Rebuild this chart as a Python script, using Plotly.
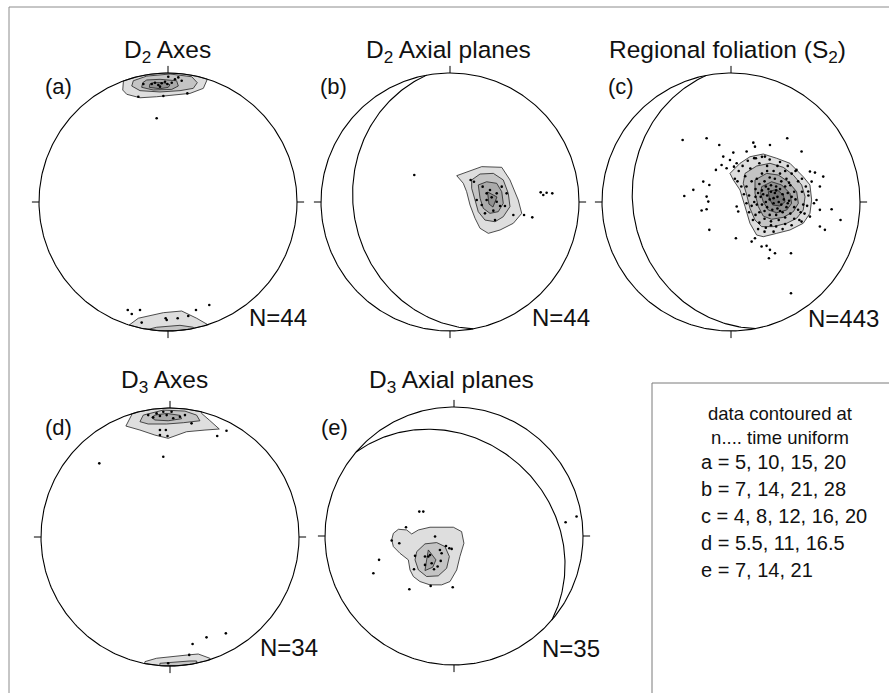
import numpy as np
import plotly.graph_objects as go

# ---------------- DATA (net units: primitive radius = 100, north up) ----------------
# Panel (a) D2 axes - poles
A_X = [-12.6, -10.1, -7.5, -4.9, -2.3, -0.5, 2.9, 5.4, 8.0, -19.1, 10.6, -23.0, -3.6, 15.0, -6.2, 0.2, -8.8,
       -31.2, -28.1, -21.7, -20.4, -1.8, -1.0, 7.5, 15.7, 21.7, 32.0]
A_Y = [91.5, 92.5, 90.7, 92.0, 93.2, 91.5, 92.5, 95.1, 96.6, 91.5, 94.0, 81.6, 82.2, 84.2, 89.4, 97.1, 64.9,
       -83.7, -86.8, -83.7, -93.5, -90.1, -91.5, -90.1, -88.4, -83.7, -79.8]
# contour rings: (level, closes along primitive, vertices)
A_RINGS = [
    (1, True, [(-34.6, 93.2), (-35.1, 86.8), (-32.0, 83.5), (-21.7, 80.8), (-8.8, 81.6), (6.7, 82.9),
               (17.1, 84.2), (27.4, 88.1), (30.5, 95.2)]),
    (2, False, [(-26.9, 94.0), (-28.1, 89.9), (-21.7, 86.3), (-6.2, 85.3), (9.3, 86.3), (19.6, 88.1),
                (22.7, 92.5), (18.4, 97.1), (1.6, 99.2), (-16.5, 97.6)]),
    (3, False, [(-19.6, 92.5), (-20.4, 88.9), (-11.4, 86.8), (2.9, 87.3), (8.0, 89.9), (6.7, 94.0),
                (-6.2, 95.1), (-16.5, 94.6)]),
    (4, False, [(-14.0, 91.5), (-14.5, 88.9), (-6.2, 87.8), (0.2, 88.9), (1.6, 90.9), (-3.6, 92.5),
                (-11.4, 92.5)]),
    (1, True, [(-30.0, -95.3), (-23.0, -90.1), (-3.6, -85.8), (10.6, -84.5), (22.2, -90.1), (31.2, -95.3)]),
    (2, True, [(-15.3, -98.7), (-8.8, -97.1), (9.3, -95.6), (19.6, -97.1)]),
]

# Panel (b) D2 axial planes - poles
B_X = [-27.7, 70.3, 72.3, 74.9, 79.3, 57.4, 63.8, 16.0, 18.6, 25.3, 28.4, 32.3, 36.2, 38.8, 33.6, 42.6,
       24.6, 34.9, 40.1, 49.1, 28.4, 31.0, 36.2, 27.1, 20.7, 43.9]
B_Y = [20.9, 7.5, 5.4, 7.2, 6.7, -10.1, -11.9, 17.1, 15.7, 11.9, 6.7, 3.6, 0.2, -3.1, -6.7, -3.1,
       -2.3, -14.0, 11.9, -10.1, 1.6, 9.3, 6.7, -8.8, 1.6, 6.7]
B_RINGS = [
    (1, False, [(5.2, 20.4), (24.6, 27.4), (40.1, 26.9), (46.5, 17.1), (52.9, 1.6), (55.6, -8.8), (49.1, -16.5),
                (38.8, -21.7), (29.7, -24.3), (23.3, -20.4), (19.4, -12.6), (15.5, -2.3), (12.9, 8.0), (10.3, 14.5)]),
    (2, False, [(16.8, 17.1), (23.3, 21.7), (33.6, 22.2), (41.3, 17.1), (45.2, 6.7), (46.5, -3.6), (41.3, -11.4),
                (34.9, -15.3), (27.1, -14.0), (21.9, -7.5), (19.4, 1.6), (16.8, 10.6)]),
    (3, False, [(21.9, 13.2), (28.4, 15.7), (36.2, 14.5), (40.1, 8.0), (41.3, -1.0), (37.4, -7.5), (31.0, -8.8),
                (25.8, -4.9), (23.3, 2.9)]),
    (4, False, [(29.1, 7.8), (36.4, 3.9), (33.3, -3.9), (30.2, -1.6)]),
]
B_PLANE = (169.6, 26.0)   # strike (right-hand rule), dip

# Panel (c) regional foliation S2 - poles
C_X = [-37.5, -18.9, -9.1, 17.3, 18.6, 30.2, 43.6, 54.7, -6.0, 1.8, 4.4, -11.7, -3.4, -0.8, 61.2, 65.1, 71.5,
       62.5, 68.9, -21.5, -29.2, -36.2, -16.8, -18.9, -17.6, -22.8, -18.9, 4.4, 5.6, 66.3, 78.0, 84.9, 68.9,
       72.8, -16.8, 3.8, 16.0, 18.6, 23.7, 27.6, 30.2, 34.1, 29.4, 46.5, 46.5, 59.9, 64.3, 68.9, 61.2, 54.7,
       12.1, 26.3, 19.3, 50.8, -7.3, 2.3,
       3, 6, 9, 13, 18, 24, 30, 38, 44, 50, 55, 58, 60, 59, 57, 53, 47, 40, 33, 26, 21, 17, 14, 12, 10, 8, 5,
       11, 15, 22, 28, 36, 42, 47, 52, 55, 56, 54, 49, 42, 35, 27, 22, 19, 16, 14, 12,
       20, 24, 28, 33, 38, 43, 46, 49, 50, 49, 46, 42, 37, 31, 26, 22, 20, 19, 19, 22, 26, 30, 34, 39, 42, 44,
       45, 43, 40, 35, 30, 26, 24, 23, 24, 27, 31, 35, 38, 40, 41, 39, 36, 32, 28, 27, 28, 31, 34, 36, 37, 33,
       30, 33, 35, 29, 25, 38, 44, 47, 21, 18, 52, 45, 31, 16]
C_Y = [48.1, 49.4, 44.2, 46.0, 42.9, 44.2, 49.4, 39.1, 35.2, 38.3, 30.0, 24.9, 26.2, 32.6, 23.6, 22.8, 19.7,
       15.8, 12.0, 15.8, 9.4, 4.7, 13.2, 4.2, 0.3, -6.6, -5.6, -3.5, -7.4, 1.6, -5.6, -13.9, -19.0,
       -21.6, -21.6, -28.1, -30.7, -28.1, -34.5, -34.0, -37.1, -39.7, -43.6, -39.7, -70.7, 8.1, -1.0, -6.1, -11.3, -15.2,
       39.1, 35.2, 33.9, 24.9, 28.7, 27.4,
       18, 24, 28, 32, 34, 35, 33, 31, 28, 24, 18, 12, 5, -3, -9, -14, -18, -21, -23, -23, -21, -14, -8, -1, 6, 12, 16,
       20, 26, 30, 28, 28, 24, 22, 16, 8, -2, -8, -13, -17, -19, -20, -16, -10, -3, 5, 12,
       18, 22, 24, 24, 22, 18, 13, 8, 2, -4, -9, -12, -14, -15, -13, -8, -2, 4, 10, 14, 16, 19, 18, 16, 12, 7,
       1, -4, -8, -10, -10, -7, -2, 4, 9, 12, 13, 12, 10, 6, 2, -2, -5, -6, -4, 0, 5, 8, 7, 4, 0, -1,
       2, 3, 9, 10, 6, -7, -1, 4, 7, 0, -6, 15, -18, 16]
C_RINGS = [
    (1, False, [(-0.8, 22.2), (7.0, 30.0), (14.7, 35.1), (25.0, 37.2), (35.4, 33.9), (45.7, 30.0), (56.0, 19.6),
                (61.2, 13.2), (62.5, 1.6), (61.2, -8.8), (56.0, -16.5), (45.7, -21.7), (35.4, -24.3), (25.0, -26.9),
                (19.9, -25.6), (14.7, -16.5), (10.9, -3.6), (7.0, 9.3), (1.8, 17.1)]),
    (2, False, [(10.9, 22.2), (19.9, 27.9), (30.2, 30.0), (40.5, 26.9), (48.3, 20.9), (54.8, 13.2), (57.4, 4.1),
                (56.0, -6.2), (50.9, -12.6), (43.2, -16.5), (32.8, -19.1), (23.8, -19.1), (18.6, -14.0),
                (14.7, -4.9), (12.2, 5.4), (9.5, 14.5)]),
    (3, False, [(18.6, 17.1), (27.7, 22.2), (36.7, 20.9), (44.4, 15.7), (50.9, 8.0), (52.2, -1.0), (48.3, -7.5),
                (40.5, -11.9), (31.5, -13.4), (25.0, -10.9), (21.2, -3.6), (18.6, 6.7)]),
    (4, False, [(23.8, 11.9), (31.5, 15.7), (39.3, 13.2), (45.7, 6.7), (47.0, -1.0), (43.2, -6.2), (35.4, -8.3),
                (28.9, -6.2), (25.0, 0.2), (23.0, 6.7)]),
    (5, False, [(28.9, 8.0), (35.4, 9.8), (40.5, 5.4), (41.9, 0.2), (38.0, -3.1), (32.3, -2.3), (29.7, 2.9)]),
]
C_PLANE = (169.0, 25.0)

# Panel (d) D3 axes - poles
D_X = [-16.9, -13.0, -10.4, -7.8, -5.2, -2.6, 1.2, 2.5, 7.7, 11.6, 16.7, -7.8, -3.2, -7.8, -1.9, 36.6, 43.8,
       -5.2, -54.8, 17.5, 28.3, 43.3, 14.9, -1.4]
D_Y = [94.5, 92.7, 95.8, 93.8, 97.1, 94.5, 97.1, 92.0, 93.2, 94.5, 88.1, 82.9, 82.9, 79.0, 78.3, 78.3, 82.4,
       62.2, 57.1, -82.9, -77.8, -74.7, -91.4, -97.9]
D_RINGS = [
    (1, True, [(-29.8, 94.5), (-34.2, 86.0), (-23.3, 82.9), (-11.7, 79.0), (-1.4, 76.5), (12.8, 81.6),
               (27.1, 82.9), (38.2, 83.7), (30.4, 90.7), (24.5, 95.8)]),
    (2, False, [(-20.7, 94.5), (-23.3, 89.4), (-16.9, 87.6), (-2.6, 87.6), (10.3, 88.6), (23.2, 90.1),
                (20.6, 94.5), (11.6, 97.6), (-5.2, 98.4)]),
    (3, False, [(-14.3, 92.7), (-11.7, 90.7), (-1.4, 90.1), (9.0, 91.7), (7.7, 94.3), (-2.6, 95.8), (-11.7, 94.5)]),
    (1, True, [(-19.4, -96.6), (-10.4, -94.0), (14.1, -91.4), (21.9, -90.7), (30.9, -94.0)]),
    (2, True, [(-7.8, -97.9), (2.5, -96.9), (15.4, -96.1), (20.6, -96.1)]),
]

# Panel (e) D3 axial planes - poles
E_X = [-26.9, -23.8, -37.2, -48.3, -42.4, -58.1, -62.5, -34.6, -18.1, -1.0, -14.7, -6.2, -3.6, -1.8, -10.9,
       -9.6, -10.3, -12.7, -15.5, -19.9, -22.5, -30.2, -31.0, -22.5, -17.3, -18.6, 86.5, 95.0]
E_Y = [18.9, 18.9, 6.8, -3.5, -5.6, -18.5, -28.9, -41.3, -38.7, -39.7, -0.4, -7.7, -9.5, -10.0, -10.8,
       -13.4, -19.3, -23.7, -25.8, -15.9, -15.9, -15.4, -25.8, -22.4, -21.1, -14.7, 10.7, 15.1]
E_RINGS = [
    (1, False, [(-47.0, 2.1), (-43.1, 5.2), (-36.7, 4.7), (-32.8, 1.6), (-27.6, 4.7), (-18.6, 6.8), (-0.5, 6.8),
                (5.9, 3.4), (7.7, -5.6), (4.6, -15.9), (2.1, -26.3), (-3.1, -35.3), (-9.6, -37.9), (-18.6, -37.9),
                (-26.4, -35.3), (-31.5, -31.4), (-34.1, -26.3), (-35.4, -18.5), (-41.9, -13.4), (-47.0, -8.2),
                (-48.3, -3.0)]),
    (2, False, [(-28.9, -12.1), (-22.5, -6.1), (-13.4, -5.1), (-7.0, -8.2), (-3.6, -15.9), (-5.7, -25.0),
                (-12.2, -30.9), (-21.2, -31.4), (-27.6, -26.3), (-30.2, -18.5)]),
    (3, False, [(-19.9, -10.8), (-14.0, -18.5), (-16.5, -24.2), (-22.5, -26.8), (-21.2, -18.5)]),
]
E_PLANE = (310.6, 26.0)

TITLES = ["D<sub>2</sub> Axes", "D<sub>2</sub> Axial planes", "Regional foliation (S<sub>2</sub>)",
          "D<sub>3</sub> Axes", "D<sub>3</sub> Axial planes"]
LETTERS = ["(a)", "(b)", "(c)", "(d)", "(e)"]
COUNTS = ["N=44", "N=44", "N=443", "N=34", "N=35"]
LEGEND_HEAD = ["data contoured at", "n.... time uniform"]
LEGEND_LINES = ["a = 5, 10, 15, 20", "b = 7, 14, 21, 28", "c = 4, 8, 12, 16, 20",
                "d = 5.5, 11, 16.5", "e = 7, 14, 21"]

# ---------------- STYLE / LAYOUT ----------------
W, H = 889, 693
S = 1.29          # px per net unit
RA = 120          # axis half-range in net units
FONT = "Liberation Sans, Arial, Helvetica, sans-serif"
LEVEL_FILL = {1: "#dedede", 2: "#c4c4c4", 3: "#aaaaaa", 4: "#909090", 5: "#777777"}

PANELS = [
    dict(c=(168, 202), pts=(A_X, A_Y), rings=A_RINGS, plane=None,
         title=(167, 51), letter=(58, 87), count=(247, 317)),
    dict(c=(450, 202), pts=(B_X, B_Y), rings=B_RINGS, plane=B_PLANE,
         title=(448, 51), letter=(333, 87), count=(530, 317)),
    dict(c=(731, 202), pts=(C_X, C_Y), rings=C_RINGS, plane=C_PLANE,
         title=(727, 51), letter=(621, 87), count=(806, 318)),
    dict(c=(170, 537), pts=(D_X, D_Y), rings=D_RINGS, plane=None,
         title=(164, 381), letter=(58, 427), count=(258, 647)),
    dict(c=(454, 536), pts=(E_X, E_Y), rings=E_RINGS, plane=E_PLANE,
         title=(451, 382), letter=(334, 427), count=(540, 648)),
]


def ring_xy(verts, on_primitive):
    xs = [v[0] for v in verts]
    ys = [v[1] for v in verts]
    if on_primitive:
        a_end = np.arctan2(ys[-1], xs[-1])
        a_start = np.arctan2(ys[0], xs[0])
        d = (a_start - a_end + np.pi) % (2 * np.pi) - np.pi
        t = a_end + np.linspace(0, d, 40)
        xs += list(100 * np.cos(t))
        ys += list(100 * np.sin(t))
    xs.append(xs[0])
    ys.append(ys[0])
    return xs, ys


def great_circle(strike, dip):
    s, d = np.radians(strike), np.radians(dip)
    dd = s + np.pi / 2
    sv = np.array([np.cos(s), np.sin(s), 0.0])
    dv = np.array([np.cos(dd) * np.cos(d), np.sin(dd) * np.cos(d), np.sin(d)])
    t = np.linspace(0, np.pi, 181)
    v = np.outer(np.cos(t), sv) + np.outer(np.sin(t), dv)
    plunge = np.arcsin(np.clip(v[:, 2], -1, 1))
    trend = np.arctan2(v[:, 1], v[:, 0])
    r = 100 * np.sqrt(2) * np.sin((np.pi / 2 - plunge) / 2)
    return r * np.sin(trend), r * np.cos(trend)


fig = go.Figure()
layout_axes = {}
annotations = []

for i, p in enumerate(PANELS):
    n = "" if i == 0 else str(i + 1)
    xr, yr = "x" + n, "y" + n
    cx, cy = p["c"]
    hw = RA * S / W
    hh = RA * S / H
    layout_axes["xaxis" + n] = dict(domain=[cx / W - hw, cx / W + hw], range=[-RA, RA], visible=False,
                                    anchor=yr, fixedrange=True)
    layout_axes["yaxis" + n] = dict(domain=[1 - cy / H - hh, 1 - cy / H + hh], range=[-RA, RA], visible=False,
                                    anchor=xr, fixedrange=True)

    for level, onp, verts in p["rings"]:
        xs, ys = ring_xy(verts, onp)
        fig.add_trace(go.Scatter(x=xs, y=ys, mode="lines", fill="toself", fillcolor=LEVEL_FILL[level],
                                 line=dict(color="#222222", width=0.8), xaxis=xr, yaxis=yr,
                                 hoverinfo="skip", showlegend=False))

    fig.add_trace(go.Scatter(x=p["pts"][0], y=p["pts"][1], mode="markers",
                             marker=dict(size=2.6, color="black"), xaxis=xr, yaxis=yr,
                             showlegend=False))

    if p["plane"] is not None:
        gx, gy = great_circle(*p["plane"])
        fig.add_trace(go.Scatter(x=gx, y=gy, mode="lines", line=dict(color="black", width=1.1),
                                 xaxis=xr, yaxis=yr, hoverinfo="skip", showlegend=False))

    t = np.linspace(0, 2 * np.pi, 361)
    fig.add_trace(go.Scatter(x=100 * np.cos(t), y=100 * np.sin(t), mode="lines",
                             line=dict(color="black", width=1.1), xaxis=xr, yaxis=yr,
                             hoverinfo="skip", showlegend=False))
    tick_x = [0, 0, None, 0, 0, None, 100, 105.5, None, -100, -105.5]
    tick_y = [100, 105.5, None, -100, -105.5, None, 0, 0, None, 0, 0]
    fig.add_trace(go.Scatter(x=tick_x, y=tick_y, mode="lines", line=dict(color="black", width=1),
                             xaxis=xr, yaxis=yr, hoverinfo="skip", showlegend=False))

    tx, ty = p["title"]
    annotations.append(dict(text=TITLES[i], x=tx / W, y=1 - ty / H, xref="paper", yref="paper",
                            xanchor="center", yanchor="middle", showarrow=False,
                            font=dict(family=FONT, size=24.5, color="#111111")))
    lx, ly = p["letter"]
    annotations.append(dict(text=LETTERS[i], x=lx / W, y=1 - ly / H, xref="paper", yref="paper",
                            xanchor="center", yanchor="middle", showarrow=False,
                            font=dict(family=FONT, size=22, color="#111111")))
    nx, ny = p["count"]
    annotations.append(dict(text=COUNTS[i], x=nx / W, y=1 - ny / H, xref="paper", yref="paper",
                            xanchor="left", yanchor="middle", showarrow=False,
                            font=dict(family=FONT, size=24, color="#111111")))

# legend box text: two-line heading as one block, then the contour levels
annotations.append(dict(text="<br>".join(LEGEND_HEAD), x=780 / W, y=1 - 425 / H, xref="paper", yref="paper",
                        xanchor="center", yanchor="middle", align="center", showarrow=False,
                        font=dict(family=FONT, size=18.5, color="#111111")))
for j, s in enumerate(LEGEND_LINES):
    annotations.append(dict(text=s, x=699 / W, y=1 - (462 + 27.1 * j) / H, xref="paper", yref="paper",
                            xanchor="left", yanchor="middle", showarrow=False,
                            font=dict(family=FONT, size=20, color="#111111")))

shapes = [
    dict(type="rect", xref="paper", yref="paper", x0=9 / W, x1=1.05, y0=-0.05, y1=1 - 7 / H,
         line=dict(color="#8c8c8c", width=1), fillcolor="rgba(0,0,0,0)", layer="below"),
    dict(type="rect", xref="paper", yref="paper", x0=652 / W, x1=1.05, y0=-0.05, y1=1 - 383 / H,
         line=dict(color="#7a7a7a", width=1), fillcolor="rgba(0,0,0,0)", layer="below"),
]

fig.update_layout(width=W, height=H, margin=dict(l=0, r=0, t=0, b=0),
                  paper_bgcolor="white", plot_bgcolor="rgba(0,0,0,0)",
                  annotations=annotations, shapes=shapes, showlegend=False, **layout_axes)

fig.write_html("out.html", config={"displayModeBar": False},
               post_script="document.body.style.margin='0px';document.body.style.overflow='hidden';")
